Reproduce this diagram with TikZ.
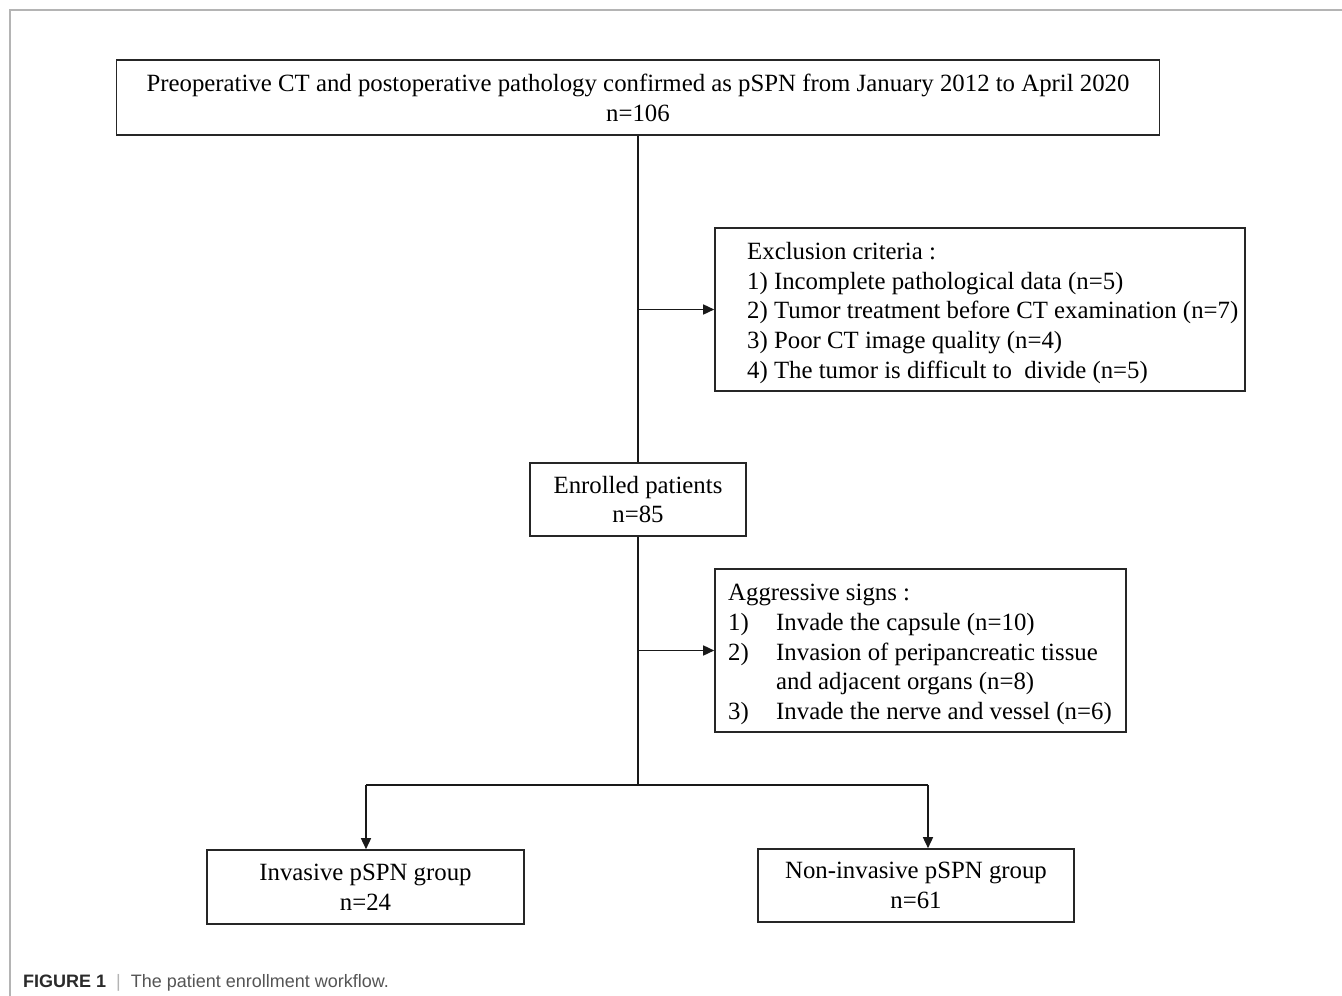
\documentclass[tikz,border=0pt]{standalone}
\usepackage{fontspec}
\setmainfont{Liberation Serif}
\newfontfamily\capfont{Liberation Sans}
\usetikzlibrary{arrows.meta}
\definecolor{framegray}{HTML}{B4B4B4}
\definecolor{captext}{HTML}{555555}
\definecolor{capbold}{HTML}{2A2A2A}
\begin{document}
\begin{tikzpicture}[x=1pt,y=-1pt,
  box/.style={draw=black!85,line width=1.6pt,inner sep=0pt,align=center,
    font=\fontsize{24.8}{29.8}\selectfont},
  listtext/.style={inner sep=0pt,align=left,anchor=west,
    font=\fontsize{24.8}{29.8}\selectfont},
  conn/.style={line width=1.5pt,draw=black!90},
  arr/.style={conn,-{Triangle[length=11pt,width=10pt]}}]
\useasboundingbox (0,0) rectangle (1342,996);
\fill[white] (0,0) rectangle (1342,996);
% frame
\draw[framegray,line width=1.5pt] (10,996) -- (10,10) -- (1342,10);
% boxes
\node[box,minimum width=1043pt,minimum height=75pt] (top) at (638,97.5)
  {Preoperative CT and postoperative pathology confirmed as pSPN from January 2012 to April 2020\\n=106};
\node[box,minimum width=530pt,minimum height=163pt] (excl) at (980,309.5) {};
\node[listtext] (excltext) at (747,313)
  {Exclusion criteria :\\
   1) Incomplete pathological data (n=5)\\
   2) Tumor treatment before CT examination (n=7)\\
   3) Poor CT image quality (n=4)\\
   4) The tumor is difficult to\ \ divide (n=5)};
\node[box,minimum width=216pt,minimum height=73pt] (enr) at (638,499.5)
  {Enrolled patients\\n=85};
\node[box,minimum width=411pt,minimum height=163pt] (agg) at (920.5,650.5) {};
\node[listtext] (aggtext) at (728,654.5)
  {Aggressive signs :\\
   \makebox[48pt][l]{1)}Invade the capsule (n=10)\\
   \makebox[48pt][l]{2)}Invasion of peripancreatic tissue\\
   \hspace*{48pt}and adjacent organs (n=8)\\
   \makebox[48pt][l]{3)}Invade the nerve and vessel (n=6)};
\node[box,minimum width=317pt,minimum height=74pt] (inv) at (365.5,887)
  {Invasive pSPN group\\n=24};
\node[box,minimum width=316pt,minimum height=73pt] (noninv) at (916,885.5)
  {Non-invasive pSPN group\\n=61};
% connectors
\coordinate (br) at (638,785);
\coordinate (bl) at (366,785);
\coordinate (brr) at (928,785);
\draw[conn] (top.south) -- (enr.north);
\draw[arr] (top.south |- excl.west) -- (excl.west);
\draw[conn] (enr.south) -- (br);
\draw[arr] (enr.south |- agg.west) -- (agg.west);
\draw[conn] (bl) -- (brr);
\draw[arr] (bl) -- (bl |- inv.north);
\draw[arr] (brr) -- (brr |- noninv.north);
% caption
\node[anchor=base west,inner sep=0pt,font=\capfont\fontsize{18}{22}\selectfont] (cap) at (23,987)
  {\textcolor{capbold}{\textbf{FIGURE 1}}\ \ \textcolor{framegray}{|}\ \ \textcolor{captext}{The patient enrollment workflow.}};
\end{tikzpicture}
\end{document}
